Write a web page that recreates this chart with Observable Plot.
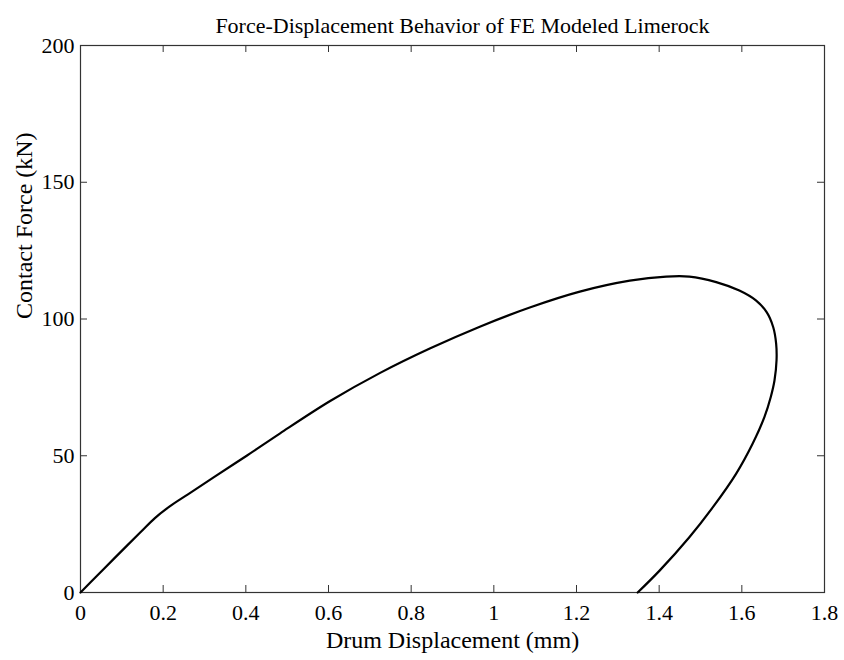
<!DOCTYPE html>
<html>
<head>
<meta charset="utf-8">
<script src="https://cdn.jsdelivr.net/npm/d3@7"></script>
<script src="https://cdn.jsdelivr.net/npm/@observablehq/plot@0.6"></script>
<style>
  html, body { margin: 0; padding: 0; background: #fff; }
  svg { display: block; }
</style>
</head>
<body>
<div id="chart"></div>
<script>
const titleText = "Force-Displacement Behavior of FE Modeled Limerock";
const xLabel = "Drum Displacement (mm)";
const yLabel = "Contact Force (kN)";
const xTicks = [0, 0.2, 0.4, 0.6, 0.8, 1, 1.2, 1.4, 1.6, 1.8];
const yTicks = [0, 50, 100, 150, 200];

// Drum displacement (mm) along the load-unload path
const displacement = [0, 0.04, 0.0805, 0.145, 0.18, 0.215, 0.26, 0.322, 0.403, 0.483, 0.604, 0.725, 0.845, 0.966, 1.087, 1.208, 1.329, 1.417, 1.473, 1.538, 1.594, 1.634, 1.660, 1.676, 1.683, 1.684, 1.679, 1.670, 1.655, 1.626, 1.586, 1.530, 1.473, 1.401, 1.348];
// Contact force (kN)
const force = [0, 6.1, 12.3, 22.0, 27.2, 31.4, 35.9, 42.1, 50.1, 58.2, 70.0, 80.3, 89.2, 97.2, 104.2, 110.0, 114.0, 115.5, 115.5, 113.5, 110.4, 106.8, 102.5, 97.0, 91.0, 85.0, 77.5, 71.5, 64.3, 54.4, 43.4, 31.2, 20.2, 8.0, 0];

const data = displacement.map((d, i) => ({d, f: force[i]}));

const W = 844, H = 660;
const mL = 80, mR = 20, mT = 45, mB = 68;
const fw = W - mL - mR, fh = H - mT - mB;
const tk = 7;
const font = "'Liberation Serif', 'Times New Roman', serif";

const chart = Plot.plot({
  width: W,
  height: H,
  marginLeft: mL,
  marginRight: mR,
  marginTop: mT,
  marginBottom: mB,
  style: {fontFamily: font, fontSize: "22px", color: "#000", background: "#fff"},
  x: {domain: [0, 1.8]},
  y: {domain: [0, 200]},
  marks: [
    Plot.frame({stroke: "#333", strokeWidth: 1.2}),
    // inward ticks on all four sides
    Plot.tickX(xTicks, {x: d => d, insetTop: fh - tk, stroke: "#333"}),
    Plot.tickX(xTicks, {x: d => d, insetBottom: fh - tk, stroke: "#333"}),
    Plot.tickY(yTicks, {y: d => d, insetRight: fw - tk, stroke: "#333"}),
    Plot.tickY(yTicks, {y: d => d, insetLeft: fw - tk, stroke: "#333"}),
    Plot.axisX({ticks: xTicks, tickSize: 0, tickPadding: 12, tickFormat: d => String(d), label: null, fontSize: 22}),
    Plot.axisY({ticks: yTicks, tickSize: 0, tickPadding: 6, tickFormat: d => String(d), label: null, fontSize: 22}),
    Plot.line(data, {x: "d", y: "f", stroke: "#000", strokeWidth: 2.2, curve: "catmull-rom"}),
    Plot.text([titleText], {frameAnchor: "top", dy: -28, dx: 10, fontSize: 22, fill: "#000"}),
    Plot.text([xLabel], {frameAnchor: "bottom", dy: 55, fontSize: 24, fill: "#000"}),
    Plot.text([yLabel], {frameAnchor: "left", dx: -56, rotate: -90, fontSize: 24, fill: "#000"})
  ]
});
document.getElementById("chart").appendChild(chart);
</script>
</body>
</html>
